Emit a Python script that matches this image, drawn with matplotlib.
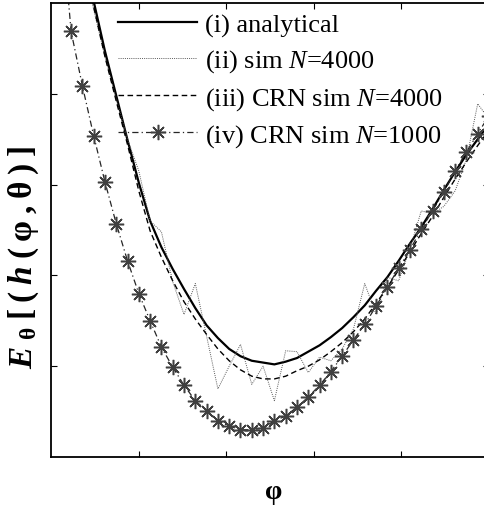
import numpy as np
import matplotlib
matplotlib.use("Agg")
import matplotlib.pyplot as plt

plt.rcParams['font.family'] = 'Liberation Serif'
plt.rcParams['mathtext.fontset'] = 'custom'
plt.rcParams['mathtext.rm'] = 'Liberation Serif'
plt.rcParams['mathtext.it'] = 'Liberation Serif:italic'
plt.rcParams['mathtext.bf'] = 'Liberation Serif:bold'
plt.rcParams['mathtext.bfit'] = 'Liberation Serif:italic:bold'

# phi grid (axis runs 0..5, no tick labels)
phi = np.linspace(0.1, 5.0, 39)

# (i) analytical
analytical = [6.86, 6.20, 5.57, 5.02, 4.47, 3.98, 3.49, 3.02, 2.60, 2.31,
              2.07, 1.85, 1.64, 1.45, 1.31, 1.19, 1.11, 1.06, 1.04, 1.02,
              1.05, 1.09, 1.16, 1.23, 1.32, 1.42, 1.54, 1.67, 1.83, 1.98,
              2.16, 2.35, 2.53, 2.73, 2.94, 3.14, 3.33, 3.50, 3.67]
# (ii) sim N=4000
sim4000 = [6.70, 6.09, 5.48, 4.93, 4.41, 3.94, 3.50, 3.15, 2.60, 2.48,
           1.93, 1.57, 1.91, 1.33, 0.75, 1.00, 1.24, 0.80, 1.00, 0.62,
           1.17, 1.16, 0.93, 1.10, 1.06, 1.19, 1.41, 1.91, 1.57, 1.98,
           1.94, 2.29, 2.71, 2.68, 2.76, 2.93, 3.28, 3.89, 3.72]
# (iii) CRN sim N=4000
crn4000 = [6.70, 6.06, 5.46, 4.96, 4.41, 3.92, 3.44, 2.93, 2.49, 2.20,
           1.94, 1.71, 1.52, 1.35, 1.19, 1.06, 0.96, 0.89, 0.86, 0.86,
           0.89, 0.95, 1.00, 1.07, 1.16, 1.26, 1.38, 1.52, 1.69, 1.87,
           2.06, 2.26, 2.46, 2.65, 2.86, 3.06, 3.25, 3.43, 3.60]
# (iv) CRN sim N=1000
crn1000 = [6.15, 4.69, 4.09, 3.54, 3.03, 2.57, 2.16, 1.80, 1.50, 1.21,
           0.99, 0.79, 0.62, 0.51, 0.40, 0.34, 0.30, 0.30, 0.32, 0.40,
           0.45, 0.55, 0.66, 0.79, 0.94, 1.11, 1.29, 1.46, 1.66, 1.87,
           2.08, 2.28, 2.51, 2.71, 2.92, 3.15, 3.36, 3.56, 3.76]

labels = ['(i) analytical', '(ii) sim $N$=4000',
          '(iii) CRN sim $N$=4000', '(iv) CRN sim $N$=1000']

fig = plt.figure(figsize=(4.85, 5.06), dpi=100)
ax = fig.add_axes([51/485, 48/506, 438/485, 454/506])

ax.plot(phi, analytical, color='k', lw=1.6, ls='-', label=labels[0])
ax.plot(phi, sim4000, color='0.35', lw=0.7, ls=(0, (1, 1.2)), label=labels[1])
ax.plot(phi, crn4000, color='k', lw=1.0, ls=(0, (4, 2.5)), label=labels[2])
ax.plot(phi, crn1000, color='0.15', lw=0.9, ls=(0, (5, 2.5, 1, 2.5)),
        marker=(8, 2, 0), ms=11, mew=1.1, mec='0.25', label=labels[3])

ax.set_xlim(0, 5)
ax.set_ylim(0, 5)
ax.set_xticks([1, 2, 3, 4])
ax.set_yticks([1, 2, 3, 4])
ax.tick_params(direction='in', length=4, width=0.8, top=True, right=True,
               labelbottom=False, labelleft=False)
for s in ax.spines.values():
    s.set_linewidth(1.3)

leg = ax.legend(loc='upper left', bbox_to_anchor=(118/485, 1 - 14/506),
                bbox_transform=fig.transFigure, frameon=False, fontsize=19,
                handlelength=3.0, handletextpad=0.28, labelspacing=0.4,
                borderpad=0, borderaxespad=0, numpoints=1)

fig.text(274/485, 1 - 493/506, 'φ', fontsize=20, fontweight='bold',
         ha='center', va='center')
fig.text(24/485, 1 - 258/506,
         r'$\mathbfit{E}\;_{\mathbf{θ}}\;\mathbf{[}\;\mathbf{(}\;\mathbfit{h}'
         r'\;\mathbf{(}\;\mathbf{φ}\;\mathbf{,}\;\mathbf{θ}\;\mathbf{)}\;\mathbf{]}$',
         fontsize=24, rotation=90, ha='center', va='center')

fig.savefig('out.png', dpi=100)
